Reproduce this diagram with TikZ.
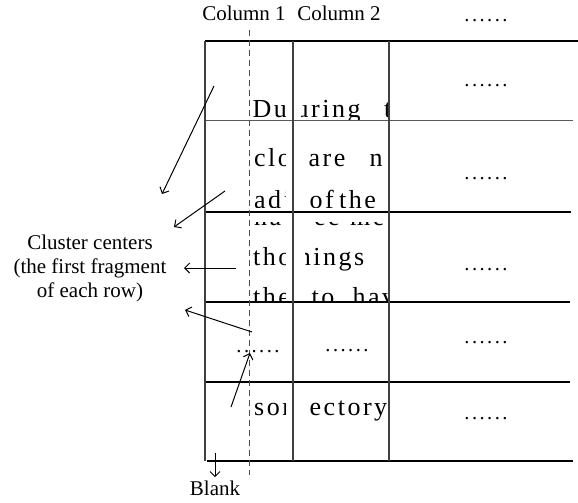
\documentclass[tikz,border=0pt]{standalone}
\usepackage{fontspec}
\setmainfont{Liberation Serif}
\usetikzlibrary{arrows.meta}
\newfontfamily\dotfont[LetterSpace=12]{Liberation Serif}
% letter-spaced word: 2.5pt between letters
\def\lsp#1{\lspaux#1\relax}
\def\lspaux#1#2{#1\ifx#2\relax\else\kern2.5pt\expandafter\lspaux\expandafter#2\fi}
\begin{document}
\begin{tikzpicture}[x=1pt,y=-1pt,
  lab/.style={font=\fontsize{21}{24}\selectfont, inner sep=0pt},
  frag/.style={font=\fontsize{26}{28}\selectfont, anchor=base west, inner sep=0pt},
  dotrow/.style={font=\dotfont\fontsize{20.5}{24}\selectfont, anchor=base, inner sep=0pt},
  thickline/.style={line width=1.8pt},
  thinline/.style={line width=0.9pt, black!65},
  vline/.style={line width=1.2pt, black!75},
  dashline/.style={line width=0.9pt, black!70, dash pattern=on 6pt off 4pt},
  arr/.style={-{Straight Barb[length=5pt,width=10pt]}, line width=1pt},
]
\useasboundingbox (0,0) rectangle (578,503);

% ---- text fragments, column 1 ----
\begin{scope}
  \clip (250,98) rectangle (285,120);
  \node[frag] (c1r1) at (252.5,117.7) {\lsp{Du}};
\end{scope}
\begin{scope}
  \clip (250,127) rectangle (285,207);
  \node[frag] (c1r2a) at (254,166.7) {\lsp{clo}};
  \node[frag] (c1r2b) at (254,208) {\lsp{adj}};
\end{scope}
\begin{scope}
  \clip (250,222.5) rectangle (285,301.5);
  \node[frag] (c1r3a) at (254,225) {\lsp{na}};
  \node[frag] (c1r3b) at (253,265) {\lsp{tho}};
  \node[frag] (c1r3c) at (253,305) {\lsp{the}};
\end{scope}
\begin{scope}
  \clip (250,395) rectangle (285,430);
  \node[frag] (c1r5) at (254,415) {\lsp{sor}};
\end{scope}

% ---- text fragments, column 2 ----
\begin{scope}
  \clip (301,98) rectangle (388,120);
  \node[frag] (c2r1a) at (295.5,117.7) {\lsp{uring}};
  \node[frag] (c2r1b) at (384,117.7) {t};
\end{scope}
\begin{scope}
  \clip (300,127) rectangle (388,207);
  \node[frag] (c2r2a) at (308.5,166.7) {\lsp{are}};
  \node[frag] (c2r2b) at (369.5,166.7) {n};
  \node[frag] (c2r2c) at (309.5,208) {\lsp{of}};
  \node[frag] (c2r2d) at (339,208) {\lsp{the}};
\end{scope}
\begin{scope}
  \clip (305.5,222.5) rectangle (388,301.5);
  \node[frag] (c2r3a) at (314,225) {\lsp{ee}};
  \node[frag] (c2r3b) at (350,225) {\lsp{me}};
  \node[frag] (c2r3c) at (288,265) {\lsp{things}};
  \node[frag] (c2r3d) at (311.5,305) {\lsp{to}};
  \node[frag] (c2r3e) at (352.5,305) {\lsp{hav}};
\end{scope}
\begin{scope}
  \clip (300,395) rectangle (388,430);
  \node[frag] (c2r5) at (309.5,415) {\lsp{ectory}};
\end{scope}

% ---- table lines ----
\draw[thickline] (205,41) -- (578,41);
\draw[thinline] (205,120) -- (573,120);
\draw[thickline] (205,212) -- (571,212);
\draw[thickline] (205,302) -- (570,302);
\draw[thickline] (205,382) -- (570,382);
\draw[thickline] (207,461) -- (573,461);
\draw[vline] (205,41) -- (205,461);
\draw[vline] (293,41) -- (293,461);
\draw[vline] (389,41) -- (389,461);
\draw[dashline] (249,30) -- (249,475);

% ---- headers ----
\node[lab, anchor=base] (h1) at (244,21) {Column 1};
\node[lab, anchor=base] (h2) at (339,21) {Column 2};
\node[dotrow] (h3) at (486,21.5) {......};

% ---- dots in cells ----
\node[dotrow] (d31) at (486,86.5) {......};
\node[dotrow] (d32) at (486,179.5) {......};
\node[dotrow] (d33) at (486,270.5) {......};
\node[dotrow] (d34) at (486,343) {......};
\node[dotrow] (d35) at (486,419.5) {......};
\node[dotrow] (d14) at (258,352) {......};
\node[dotrow] (d24) at (347,351.5) {......};

% ---- labels ----
\node[lab, align=center] (cl) at (90,268) {Cluster centers\\(the first fragment\\of each row)};
\node[lab, anchor=base] (blank) at (215,495) {Blank};

% ---- arrows ----
\coordinate (s1) at (214,86);   \coordinate (e1) at (162,194);
\coordinate (s2) at (225,191);  \coordinate (e2) at (174,227);
\coordinate (s3) at (236,268);  \coordinate (e3) at (184,268);
\coordinate (s4) at (252,332);  \coordinate (e4) at (185,310);
\coordinate (s5) at (231,407);  \coordinate (e5) at (250,353);
\coordinate (s6) at (215,453);
\draw[arr] (s1) -- (e1);
\draw[arr] (s2) -- (e2);
\draw[arr] (s3) -- (e3);
\draw[arr] (s4) -- (e4);
\draw[arr] (s5) -- (e5);
\draw[arr, shorten >=3pt] (s6) -- (blank.north);
\end{tikzpicture}
\end{document}
